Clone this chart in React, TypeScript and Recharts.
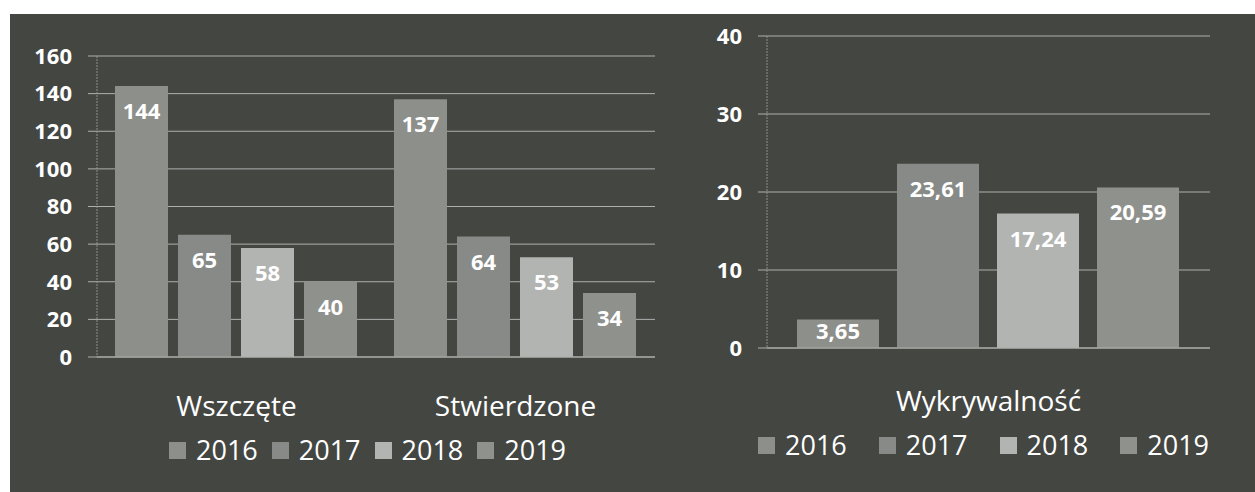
import React from "react"
import { BarChart, Bar, XAxis, YAxis, CartesianGrid, Legend, LabelList } from "recharts"

const years = ["2016", "2017", "2018", "2019"]
const leftCategories = ["Wszczęte", "Stwierdzone"]
const values2016 = [144, 137]
const values2017 = [65, 64]
const values2018 = [58, 53]
const values2019 = [40, 34]
const leftTicks = [0, 20, 40, 60, 80, 100, 120, 140, 160]

const rightCategories = ["Wykrywalność"]
const rate2016 = [3.65]
const rate2017 = [23.61]
const rate2018 = [17.24]
const rate2019 = [20.59]
const rightTicks = [0, 10, 20, 30, 40]

const barColors = ["#8d8f8b", "#878a86", "#b2b4b1", "#8f918d"]
const bg = "#444642"
const gridColor = "#aeb0ac"
const font = "'Open Sans', 'Noto Sans', sans-serif"

const leftData = leftCategories.map((category, i) => ({
  category,
  y2016: values2016[i],
  y2017: values2017[i],
  y2018: values2018[i],
  y2019: values2019[i],
}))

const rightData = rightCategories.map((category, i) => ({
  category,
  y2016: rate2016[i],
  y2017: rate2017[i],
  y2018: rate2018[i],
  y2019: rate2019[i],
}))

const formatComma = (v: number) => v.toFixed(2).replace(".", ",")

function makeLabel(format: (v: number) => string) {
  return (props: any) => {
    const { x, y, width, height, value } = props
    const dy = Math.min(24, height - 18)
    return (
      <text
        x={x + width / 2}
        y={y + dy}
        textAnchor="middle"
        dominantBaseline="central"
        fill="#ffffff"
        fontFamily={font}
        fontWeight={700}
        fontSize={22}
      >
        {format(value)}
      </text>
    )
  }
}

function makeCategoryTick(offset: number) {
  return (props: any) => {
    const { x, y, payload } = props
    return (
      <text x={x} y={y + offset} textAnchor="middle" dominantBaseline="central" fill="#ffffff" fontFamily={font} fontSize={28}>
        {payload.value}
      </text>
    )
  }
}

function makeLegend(paddingLeft: number, itemGap: number) {
  return () => (
    <div style={{ height: 40, display: "flex", alignItems: "center", paddingLeft, fontFamily: font, fontSize: 27, color: "#ffffff" }}>
      {years.map((yr, i) => (
        <div key={yr} style={{ display: "flex", alignItems: "center", marginRight: itemGap }}>
          <div style={{ width: 17, height: 17, background: barColors[i], marginRight: 10 }} />
          <span style={{ lineHeight: "40px" }}>{yr}</span>
        </div>
      ))}
    </div>
  )
}

const yTick = { fill: "#ffffff", fontFamily: font, fontWeight: 700, fontSize: 22 }

export default function App() {
  return (
    <div style={{ position: "absolute", left: 0, top: 0, width: 1255, height: 492, background: "#ffffff", overflow: "hidden" }}>
      <div style={{ position: "absolute", left: 10, top: 14, right: 0, bottom: 0, background: bg }} />
      <div style={{ position: "absolute", left: 0, top: 0 }}>
        <BarChart
          width={680}
          height={492}
          data={leftData}
          margin={{ top: 56, right: 25, bottom: 22, left: 0 }}
          barGap={10}
          barCategoryGap={18}
        >
          <CartesianGrid vertical={false} stroke={gridColor} />
          <XAxis
            dataKey="category"
            height={73}
            axisLine={{ stroke: gridColor }}
            tickLine={false}
            tickSize={0}
            tickMargin={0}
            tick={makeCategoryTick(48)}
          />
          <YAxis
            width={97}
            domain={[0, 160]}
            ticks={leftTicks}
            interval={0}
            axisLine={{ stroke: "#8c8e8a", strokeDasharray: "2 1" }}
            tickLine={{ stroke: gridColor }}
            tickSize={9}
            tickMargin={16}
            tick={yTick}
          />
          <Legend verticalAlign="bottom" wrapperStyle={{ left: 0, width: 680 }} content={makeLegend(169, 14)} />
          {years.map((yr, i) => (
            <Bar key={yr} dataKey={`y${yr}`} name={yr} fill={barColors[i]} isAnimationActive={false}>
              <LabelList dataKey={`y${yr}`} content={makeLabel((v) => String(v))} />
            </Bar>
          ))}
        </BarChart>
      </div>
      <div style={{ position: "absolute", left: 680, top: 0 }}>
        <BarChart
          width={575}
          height={492}
          data={rightData}
          margin={{ top: 36, right: 45, bottom: 27, left: 0 }}
          barGap={18}
          barCategoryGap={30}
        >
          <CartesianGrid vertical={false} stroke={gridColor} />
          <XAxis
            dataKey="category"
            height={77}
            axisLine={{ stroke: gridColor }}
            tickLine={false}
            tickSize={0}
            tickMargin={0}
            tick={makeCategoryTick(52)}
          />
          <YAxis
            width={87}
            domain={[0, 40]}
            ticks={rightTicks}
            interval={0}
            axisLine={{ stroke: "#8c8e8a", strokeDasharray: "2 1" }}
            tickLine={{ stroke: gridColor }}
            tickSize={9}
            tickMargin={16}
            tick={yTick}
          />
          <Legend verticalAlign="bottom" wrapperStyle={{ left: 0, width: 575 }} content={makeLegend(78, 32)} />
          {years.map((yr, i) => (
            <Bar key={yr} dataKey={`y${yr}`} name={yr} fill={barColors[i]} isAnimationActive={false}>
              <LabelList dataKey={`y${yr}`} content={makeLabel(formatComma)} />
            </Bar>
          ))}
        </BarChart>
      </div>
    </div>
  )
}
